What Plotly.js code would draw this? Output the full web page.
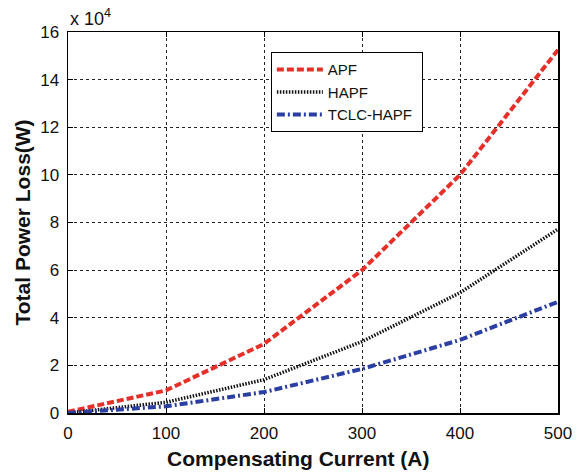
<!DOCTYPE html>
<html>
<head>
<meta charset="utf-8">
<script src="https://cdn.plot.ly/plotly-3.0.1.min.js"></script>
<style>html,body{margin:0;padding:0;background:#fff;}#chart{width:580px;height:473px;}</style>
</head>
<body>
<div id="chart"></div>
<script>
const current = [0, 100, 200, 300, 400, 500];
const apf = [0.05, 0.95, 2.9, 6.0, 10.0, 15.25];
const hapf = [0.0, 0.45, 1.4, 3.0, 5.05, 7.72];
const tclcHapf = [0.0, 0.28, 0.88, 1.85, 3.07, 4.67];
const yTicks = [0, 2, 4, 6, 8, 10, 12, 14, 16];
const xTicks = [0, 100, 200, 300, 400, 500];
const seriesNames = ['APF', 'HAPF', 'TCLC-HAPF'];

const FONT = 'Liberation Sans, Arial, sans-serif';

const traces = [
  {x: current, y: apf, name: seriesNames[0] + '\u00a0\u00a0', mode: 'lines', line: {color: '#e5302a', width: 4, dash: '7px,3px'}},
  {x: current, y: hapf, name: seriesNames[1], mode: 'lines', line: {color: '#111111', width: 3.5, dash: '1.5px,1.5px'}},
  {x: current, y: tclcHapf, name: seriesNames[2] + '\u00a0', mode: 'lines', line: {color: '#2b3fa3', width: 4, dash: '8px,3px,2px,3px'}}
];

const axisCommon = {
  showline: true, mirror: 'ticks', linecolor: '#000', linewidth: 1.5,
  ticks: 'inside', ticklen: 5, tickcolor: '#000', tickwidth: 1,
  showgrid: true, gridcolor: '#222', gridwidth: 1, griddash: '3px,3px',
  zeroline: false,
  tickfont: {family: FONT, size: 17, color: '#111'}
};

const layout = {
  width: 580, height: 473,
  margin: {l: 68, r: 22, t: 32, b: 60},
  paper_bgcolor: '#fff', plot_bgcolor: '#fff',
  showlegend: true,
  legend: {
    x: 0.414, y: 0.947, xanchor: 'left', yanchor: 'top',
    bordercolor: '#000', borderwidth: 1, bgcolor: '#fff',
    font: {family: FONT, size: 15, color: '#111'},
    tracegroupgap: 0, itemwidth: 46
  },
  xaxis: Object.assign({}, axisCommon, {
    range: [0, 500], tickvals: xTicks, ticktext: xTicks.map(String), ticklabelstandoff: 4
  }),
  yaxis: Object.assign({}, axisCommon, {
    range: [0, 16], tickvals: yTicks, ticktext: yTicks.map(String), ticklabelstandoff: 4
  }),
  annotations: [
    {text: 'x 10<sup>4</sup>', xref: 'paper', yref: 'paper', x: 0, y: 1,
     xanchor: 'left', yanchor: 'bottom', showarrow: false, yshift: 1,
     font: {family: FONT, size: 18, color: '#111'}},
    {text: '<b>Compensating Current (A)</b>', xref: 'paper', yref: 'paper',
     x: (298 - 68) / 490, y: 0, xanchor: 'center', yanchor: 'middle', yshift: -45,
     showarrow: false, font: {family: FONT, size: 21, color: '#111'}},
    {text: '<b>Total Power Loss(W)</b>', xref: 'paper', yref: 'paper',
     x: 0, y: 0.5, xanchor: 'center', yanchor: 'middle', xshift: -46, textangle: -90,
     showarrow: false, font: {family: FONT, size: 21, color: '#111'}}
  ]
};

Plotly.newPlot('chart', traces, layout, {displayModeBar: false, staticPlot: true});
</script>
</body>
</html>
